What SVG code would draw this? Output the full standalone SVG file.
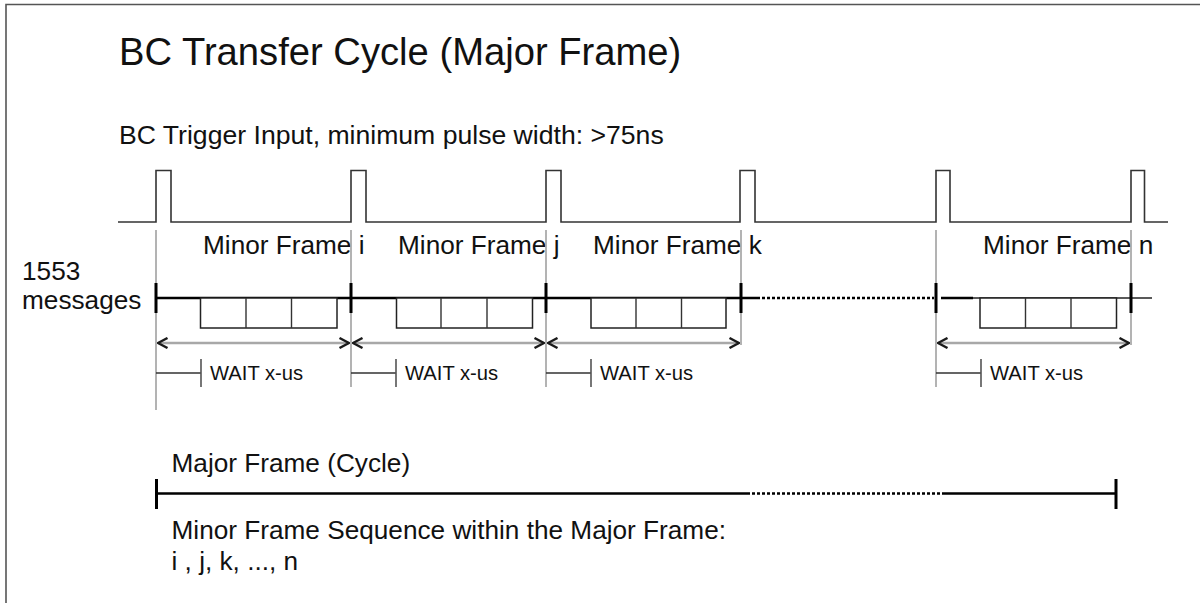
<svg xmlns="http://www.w3.org/2000/svg" width="1200" height="603" viewBox="0 0 1200 603">
<defs>
<style>
text{font-family:"Liberation Sans",Arial,sans-serif;fill:#111}
.t26{font-size:26.2px}
.wait{font-size:20.2px}
.sig{fill:none;stroke:#333;stroke-width:1.6}
.guide{stroke:#9a9a9a;stroke-width:1.5;fill:none}
.msg{stroke:#000;stroke-width:2.6;fill:none}
.tick{stroke:#000;stroke-width:3;fill:none}
.box{fill:#fff;stroke:#222;stroke-width:1.5}
.span{stroke:#a8a8a8;stroke-width:2.4;fill:none;marker-start:url(#chev);marker-end:url(#chev)}
.wl{stroke:#333;stroke-width:1.4;fill:none}
.wt{stroke:#555;stroke-width:1.6;fill:none}
</style>
<marker id="chev" viewBox="0 0 12 12" refX="11" refY="6" markerWidth="12" markerHeight="12" markerUnits="userSpaceOnUse" orient="auto-start-reverse">
<path d="M1.5,1 L11,6 L1.5,11" fill="none" stroke="#1a1a1a" stroke-width="2.4"/>
</marker>
</defs>
<rect width="1200" height="603" fill="#fff"/>
<g id="frame">
<path d="M1200,4.5 H6 V603" fill="none" stroke="#555" stroke-width="1.6"/>
</g>
<g id="title">
<text x="119" y="65" style="font-size:38.2px">BC Transfer Cycle (Major Frame)</text>
<text x="119" y="144" style="font-size:26.6px">BC Trigger Input, minimum pulse width: &gt;75ns</text>
</g>
<g id="trigger">
<path class="sig" d="M118,222 H156 V170.5 H171 V222 H351 V170.5 H366 V222 H546 V170.5 H561 V222 H740 V170.5 H755 V222 H936 V170.5 H950 V222 H1131 V170.5 H1144.5 V222 H1168"/>
</g>
<g id="labels">
<text class="t26" x="22" y="280">1553</text>
<text class="t26" x="22" y="309">messages</text>
<text class="t26" x="203" y="254">Minor Frame i</text>
<text class="t26" x="398" y="254">Minor Frame j</text>
<text class="t26" x="593" y="254">Minor Frame k</text>
<text class="t26" x="983" y="254">Minor Frame n</text>
</g>
<g id="connectors">
<path class="guide" d="M156,230 V410 M351,230 V387 M546,230 V387 M741,230 V345 M936,230 V387 M1131,230 V345"/>
<path class="msg" d="M156,298 H757 M941,298 H973"/>
<path d="M757,298 H934" stroke="#000" stroke-width="2.6" stroke-dasharray="3 2" fill="none"/>
<path d="M973,298 H1152" stroke="#222" stroke-width="1.6" fill="none"/>
<path class="tick" d="M156,283 V313 M351,283 V313 M546,283 V313 M741,283 V313 M936,283 V313 M1131,283 V313"/>
<path class="span" d="M158,343 H349"/>
<path class="span" d="M353,343 H544"/>
<path class="span" d="M548,343 H739"/>
<path class="span" d="M938,343 H1129"/>
</g>
<g id="messages">
<rect class="box" x="200.5" y="298" width="136.5" height="30"/>
<path class="wl" d="M246,298 V328 M291.5,298 V328"/>
<rect class="box" x="396.5" y="298" width="136" height="30"/>
<path class="wl" d="M441,298 V328 M487,298 V328"/>
<rect class="box" x="591" y="298" width="135" height="30"/>
<path class="wl" d="M636,298 V328 M681.5,298 V328"/>
<rect class="box" x="980" y="298" width="136.5" height="30"/>
<path class="wl" d="M1025.5,298 V328 M1071,298 V328"/>
</g>
<g id="waits">
<path class="wl" d="M156,373 H201 M351,373 H396 M546,373 H591 M936,373 H981"/>
<path class="wt" d="M201,359 V387 M396,359 V387 M591,359 V387 M981,359 V387"/>
<text class="wait" x="210" y="380">WAIT x-us</text>
<text class="wait" x="405" y="380">WAIT x-us</text>
<text class="wait" x="600" y="380">WAIT x-us</text>
<text class="wait" x="990" y="380">WAIT x-us</text>
</g>
<g id="major">
<text class="t26" x="171.5" y="472">Major Frame (Cycle)</text>
<path d="M156.5,493.5 H747 M942,493.5 H1116" stroke="#000" stroke-width="2.6" fill="none"/>
<path d="M747,493.5 H942" stroke="#000" stroke-width="2.6" stroke-dasharray="3 2" fill="none"/>
<path class="tick" d="M156.5,479 V509 M1116,479 V509"/>
<text class="t26" x="171.5" y="539">Minor Frame Sequence within the Major Frame:</text>
<text class="t26" x="171.5" y="570">i , j, k, ..., n</text>
</g>
</svg>
